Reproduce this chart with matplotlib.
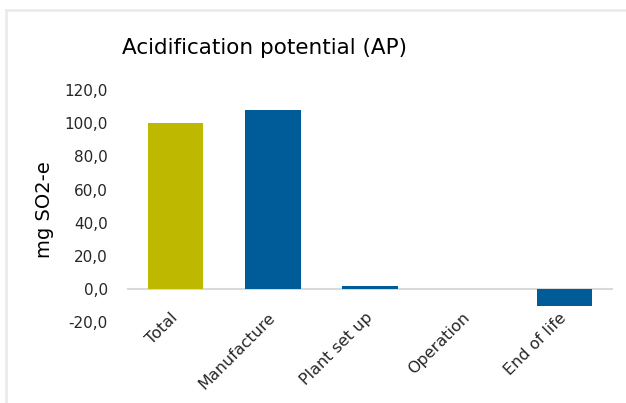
import matplotlib
matplotlib.use("Agg")
import matplotlib.pyplot as plt
from matplotlib.lines import Line2D

categories = ["Total", "Manufacture", "Plant set up", "Operation", "End of life"]
values = [100.0, 108.0, 1.8, 0.0, -10.0]
colors = ["#BFB800", "#005C99", "#005C99", "#005C99", "#005C99"]
yticks = [-20, 0, 20, 40, 60, 80, 100, 120]

plt.rcParams["font.family"] = ["DejaVu Sans"]

fig = plt.figure(figsize=(6.26, 4.03), dpi=100)
ax = fig.add_axes([0.203, 0.2005, 0.776, 0.576])

x = range(len(categories))
ax.bar(x, values, width=0.57, color=colors, zorder=2)
ax.axhline(0, color="#D9D9D9", lw=1.5, zorder=1)

ax.set_xlim(-0.5, len(categories) - 0.5)
ax.set_ylim(-20, 120)
ax.set_yticks(yticks)
ax.set_yticklabels([f"{v:.1f}".replace(".", ",") for v in yticks], fontsize=11, color="#262626")
ax.set_xticks(list(x))
ax.set_xticklabels(categories, rotation=45, ha="right", va="center", rotation_mode="anchor",
                   fontsize=11.5, color="#262626")
ax.tick_params(axis="y", length=0, pad=14)
ax.tick_params(axis="x", length=0, pad=-5)
for s in ax.spines.values():
    s.set_visible(False)

ax.set_ylabel("mg SO2-e", fontsize=14, color="#000000")
ax.yaxis.set_label_coords(-0.15, 0.487)

fig.text(0.423, 0.88, "Acidification potential (AP)", ha="center", va="center",
         fontsize=15.5, color="#000000")

# light frame around the chart area
fig.add_artist(Line2D([0.009, 1.0], [0.974, 0.974], color="#EBEBEB", lw=2, transform=fig.transFigure))
fig.add_artist(Line2D([0.009, 0.009], [0.0, 0.974], color="#EBEBEB", lw=2, transform=fig.transFigure))

fig.savefig("out.png", dpi=100)
